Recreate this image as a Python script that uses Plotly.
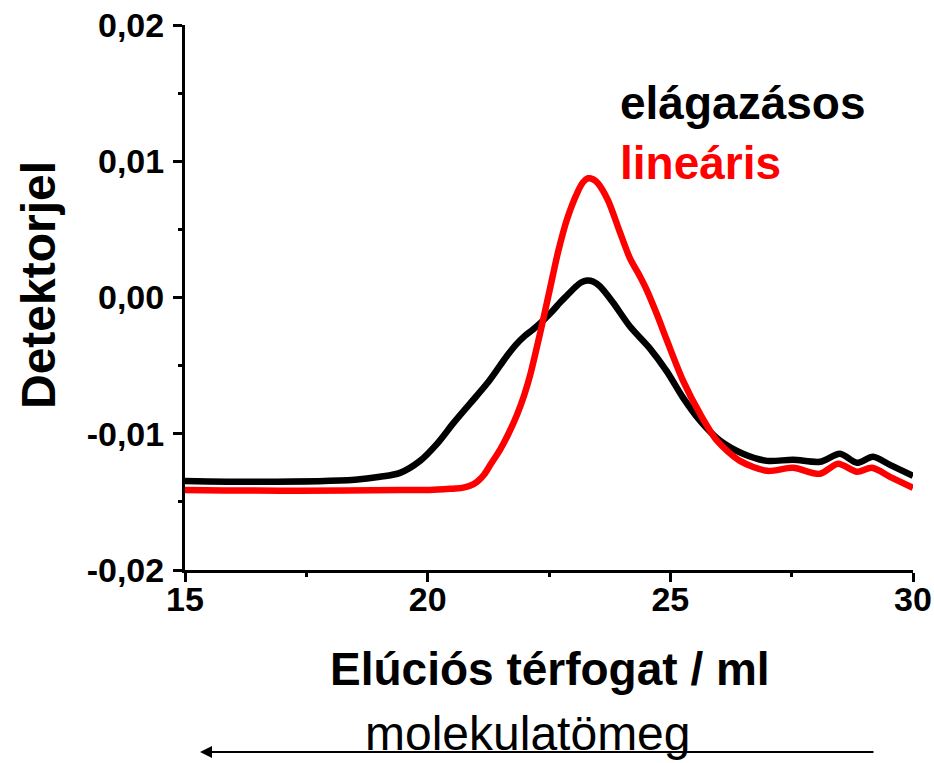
import plotly.graph_objects as go

# Pixel-to-value helpers used only to convert the numbers
PX_X0, PX_PER_ML = 185, 728 / 15
PX_Y0, PX_PER_UNIT = 297, 13600

# Branched polymer trace (x in ml, y in detector units)
branched_px = [(185, 480), (260, 481), (355, 479), (380, 476), (400, 472), (420, 460), (437, 443),
               (453, 423), (470, 403), (487, 383), (500, 365), (508, 354), (516, 344), (524, 336),
               (533, 329), (543, 320), (552, 311), (560, 302), (567, 295), (575, 287), (581, 282),
               (587, 280), (593, 281), (600, 286), (613, 302), (630, 326), (650, 348), (667, 371),
               (683, 397), (700, 420), (720, 440), (743, 453), (767, 460), (793, 459), (820, 461),
               (840, 453), (857, 462), (873, 456), (890, 464), (913, 475)]
# Linear polymer trace
linear_px = [(185, 489), (300, 490), (400, 489), (430, 489), (450, 488), (462, 487), (470, 485),
             (477, 481), (484, 474), (491, 463), (500, 449), (508, 434), (517, 414), (524, 395),
             (530, 375), (540, 333), (550, 288), (558, 252), (567, 219), (577, 193), (583, 182),
             (588, 178), (593, 179), (598, 183), (608, 200), (620, 232), (630, 258), (640, 276),
             (647, 290), (657, 314), (667, 340), (683, 380), (700, 413), (717, 440), (740, 460),
             (767, 470), (793, 467), (820, 473), (838, 463), (857, 471), (872, 467), (890, 476),
             (913, 487)]

x_branched = [round(15 + (p[0] - PX_X0) / PX_PER_ML, 3) for p in branched_px]
y_branched = [round((PX_Y0 - p[1]) / PX_PER_UNIT, 5) for p in branched_px]
x_linear = [round(15 + (p[0] - PX_X0) / PX_PER_ML, 3) for p in linear_px]
y_linear = [round((PX_Y0 - p[1]) / PX_PER_UNIT, 5) for p in linear_px]

x_ticks = [15, 20, 25, 30]
x_ticklabels = ["15", "20", "25", "30"]
y_ticks = [-0.02, -0.01, 0.0, 0.01, 0.02]
y_ticklabels = ["-0,02", "-0,01", "0,00", "0,01", "0,02"]

series_names = ["elágazásos", "lineáris"]
series_colors = ["#000000", "#ff0000"]

FONT = "Liberation Sans, Arial, sans-serif"
W, H = 934, 763
L, T = 185, 25
PW, PH = 728, 545
R, B = W - L - PW, H - T - PH


def px_x(px):
    return (px - L) / PW


def px_y(py):
    return (T + PH - py) / PH


fig = go.Figure()
fig.add_trace(go.Scatter(x=x_branched, y=y_branched, mode="lines", name=series_names[0],
                         line=dict(color=series_colors[0], width=6.5, shape="spline", smoothing=0.8)))
fig.add_trace(go.Scatter(x=x_linear, y=y_linear, mode="lines", name=series_names[1],
                         line=dict(color=series_colors[1], width=6.5, shape="spline", smoothing=0.8)))

fig.update_layout(
    width=W, height=H,
    margin=dict(l=L, r=R, t=T, b=B),
    paper_bgcolor="white", plot_bgcolor="white",
    showlegend=False,
    font=dict(family=FONT, color="black"),
)

fig.update_xaxes(
    range=[15, 30], tickvals=x_ticks, ticktext=x_ticklabels, automargin=False,
    showline=True, linewidth=3, linecolor="black", mirror=False,
    ticks="outside", ticklen=9, tickwidth=3, tickcolor="black",
    minor=dict(ticks="outside", ticklen=4, tickwidth=3, tickcolor="black", dtick=2.5, tick0=15),
    showgrid=False, zeroline=False,
    tickfont=dict(family=FONT, size=34, color="black", weight="bold"),
    ticklabelstandoff=-12, ticklabeloverflow="allow",
)
fig.update_yaxes(
    range=[-0.02, 0.02], tickvals=y_ticks, ticktext=y_ticklabels, automargin=False,
    showline=True, linewidth=3, linecolor="black", mirror=False,
    ticks="outside", ticklen=9, tickwidth=3, tickcolor="black",
    minor=dict(ticks="outside", ticklen=4, tickwidth=3, tickcolor="black", dtick=0.005, tick0=0),
    showgrid=False, zeroline=False,
    tickfont=dict(family=FONT, size=34, color="black", weight="bold"),
    ticklabelstandoff=2, ticklabeloverflow="allow",
)

# axis titles
fig.add_annotation(xref="paper", yref="paper", x=px_x(550), y=px_y(669),
                   text="<b>Elúciós térfogat / ml</b>", showarrow=False,
                   xanchor="center", yanchor="middle",
                   font=dict(family=FONT, size=46, color="black"))
fig.add_annotation(xref="paper", yref="paper", x=px_x(38), y=px_y(285),
                   text="<b>Detektorjel</b>", showarrow=False, textangle=-90,
                   xanchor="center", yanchor="middle",
                   font=dict(family=FONT, size=48, color="black"))

# series labels
fig.add_annotation(xref="paper", yref="paper", x=px_x(618), y=px_y(103),
                   text="<b>" + series_names[0] + "</b>", showarrow=False,
                   xanchor="left", yanchor="middle",
                   font=dict(family=FONT, size=46, color=series_colors[0]))
fig.add_annotation(xref="paper", yref="paper", x=px_x(618), y=px_y(163),
                   text="<b>" + series_names[1] + "</b>", showarrow=False,
                   xanchor="left", yanchor="middle",
                   font=dict(family=FONT, size=46, color=series_colors[1]))

# molecular weight direction arrow
fig.add_annotation(xref="paper", yref="paper", x=px_x(200), y=px_y(752),
                   ax=675, ay=0, axref="pixel", ayref="pixel",
                   text="", showarrow=True, arrowhead=2, arrowsize=1.2, arrowwidth=2,
                   arrowcolor="black")
fig.add_annotation(xref="paper", yref="paper", x=px_x(528), y=px_y(733),
                   text="molekulatömeg", showarrow=False, xanchor="center", yanchor="middle",
                   font=dict(family=FONT, size=48, color="black"))

fig.write_html(
    "out.html",
    config={"displayModeBar": False},
    post_script="document.body.style.margin='0px';document.body.style.overflow='hidden';",
)
